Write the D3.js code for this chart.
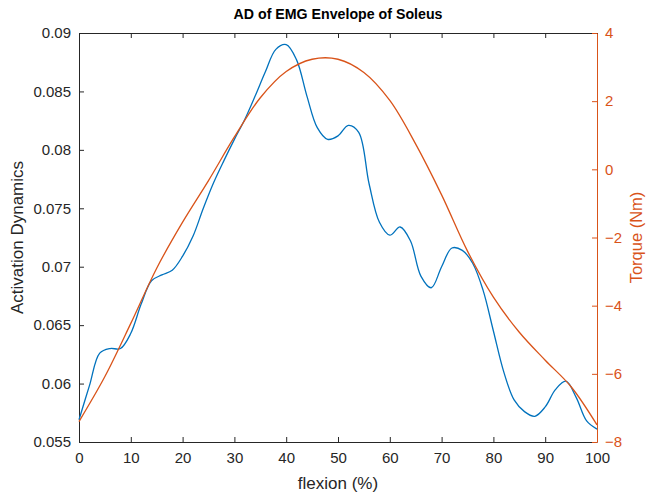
<!DOCTYPE html>
<html>
<head>
<meta charset="utf-8">
<script src="https://cdn.jsdelivr.net/npm/d3@7"></script>
<style>
  html, body { margin: 0; padding: 0; background: #fff; }
  svg { display: block; font-family: "Liberation Sans", Arial, Helvetica, sans-serif; }
</style>
</head>
<body>
<svg id="chart" width="646" height="497"></svg>
<script>
// Flexion grid (%) and activation dynamics of the soleus EMG envelope
const adFlexion = d3.range(0, 101, 2);
const adValues = [
  0.0569, 0.0598, 0.0626, 0.0630, 0.0630, 0.0643, 0.0668, 0.0688, 0.0693, 0.0697,
  0.0709, 0.0726, 0.0750, 0.0772, 0.0791, 0.0809, 0.0826, 0.0846, 0.0867, 0.0886,
  0.0890, 0.0877, 0.0846, 0.0819, 0.0809, 0.0812, 0.0821, 0.0815, 0.0771, 0.0738,
  0.0727, 0.0734, 0.0722, 0.0692, 0.0682, 0.0700, 0.0716, 0.0714, 0.0703, 0.0680,
  0.0645, 0.0610, 0.0586, 0.0576, 0.0572, 0.0580, 0.0595, 0.0602, 0.0588, 0.0568,
  0.0561
];

// Torque (Nm) over the same flexion range
const torqueFlexion = d3.range(0, 101, 5);
const torqueValues = [
  -7.40, -6.08, -4.52, -2.90, -1.55, -0.33, 0.95, 2.10, 2.87, 3.23,
  3.23, 2.84, 2.02, 0.74, -0.75, -2.40, -3.75, -4.78, -5.60, -6.38,
  -7.50
];

// Tick values
const xTicks = d3.range(0, 101, 10);
const leftTicks = [0.055, 0.06, 0.065, 0.07, 0.075, 0.08, 0.085, 0.09];
const rightTicks = [-8, -6, -4, -2, 0, 2, 4];

const blue = "#0072BD";
const orange = "#D95319";
const axisColor = "#262626";

const svg = d3.select("#chart");
const plot = { left: 79, right: 597, top: 33, bottom: 442 };

const x = d3.scaleLinear().domain([0, 100]).range([plot.left, plot.right]);
const yL = d3.scaleLinear().domain([0.055, 0.09]).range([plot.bottom, plot.top]);
const yR = d3.scaleLinear().domain([-8, 4]).range([plot.bottom, plot.top]);

const tickLen = 5;
const fontSize = 15;
const fontFamily = "'Liberation Sans', Arial, sans-serif";

// Bottom axis
const bottomAxis = svg.append("g")
  .attr("transform", `translate(0,${plot.bottom})`)
  .call(d3.axisBottom(x).tickValues(xTicks).tickSizeInner(-tickLen).tickSizeOuter(0).tickPadding(10)
    .tickFormat(d3.format("d")));

// Top axis (box edge, ticks only)
const topAxis = svg.append("g")
  .attr("transform", `translate(0,${plot.top})`)
  .call(d3.axisTop(x).tickValues(xTicks).tickSizeInner(-tickLen).tickSizeOuter(0).tickFormat(""));

// Left axis
const leftAxis = svg.append("g")
  .attr("transform", `translate(${plot.left},0)`)
  .call(d3.axisLeft(yL).tickValues(leftTicks).tickSizeInner(-tickLen).tickSizeOuter(0).tickPadding(8)
    .tickFormat(d => d3.format("")(+d.toFixed(3))));

// Right axis
const rightAxis = svg.append("g")
  .attr("transform", `translate(${plot.right},0)`)
  .call(d3.axisRight(yR).tickValues(rightTicks).tickSizeInner(-tickLen).tickSizeOuter(0).tickPadding(8)
    .tickFormat(d3.format("d")));

[bottomAxis, topAxis, leftAxis].forEach(g => {
  g.select(".domain").attr("stroke", axisColor).attr("stroke-width", 1);
  g.selectAll(".tick line").attr("stroke", axisColor);
  g.selectAll(".tick text").attr("fill", axisColor).style("font-size", fontSize + "px")
    .style("font-family", fontFamily);
});
rightAxis.select(".domain").attr("stroke", orange).attr("stroke-width", 1);
rightAxis.selectAll(".tick line").attr("stroke", orange);
rightAxis.selectAll(".tick text").attr("fill", orange).style("font-size", fontSize + "px")
  .style("font-family", fontFamily);

// Series lines
const adLine = d3.line()
  .x((d, i) => x(adFlexion[i]))
  .y(d => yL(d))
  .curve(d3.curveCatmullRom.alpha(0.5));

const torqueLine = d3.line()
  .x((d, i) => x(torqueFlexion[i]))
  .y(d => yR(d))
  .curve(d3.curveCatmullRom.alpha(0.5));

svg.append("path")
  .datum(adValues)
  .attr("d", adLine)
  .attr("fill", "none")
  .attr("stroke", blue)
  .attr("stroke-width", 1.3)
  .attr("stroke-linejoin", "round");

svg.append("path")
  .datum(torqueValues)
  .attr("d", torqueLine)
  .attr("fill", "none")
  .attr("stroke", orange)
  .attr("stroke-width", 1.3)
  .attr("stroke-linejoin", "round");

// Title
svg.append("text")
  .attr("x", (plot.left + plot.right) / 2)
  .attr("y", 19)
  .attr("text-anchor", "middle")
  .style("font-size", "14.2px")
  .style("font-weight", "bold")
  .attr("fill", "#000")
  .text("AD of EMG Envelope of Soleus");

// Axis labels
svg.append("text")
  .attr("x", (plot.left + plot.right) / 2)
  .attr("y", 489)
  .attr("text-anchor", "middle")
  .style("font-size", "17px")
  .attr("fill", axisColor)
  .text("flexion (%)");

svg.append("text")
  .attr("transform", `translate(23,${(plot.top + plot.bottom) / 2}) rotate(-90)`)
  .attr("text-anchor", "middle")
  .style("font-size", "17px")
  .attr("fill", axisColor)
  .text("Activation Dynamics");

svg.append("text")
  .attr("transform", `translate(642,${(plot.top + plot.bottom) / 2}) rotate(-90)`)
  .attr("text-anchor", "middle")
  .style("font-size", "16.5px")
  .attr("fill", orange)
  .text("Torque (Nm)");
</script>
</body>
</html>
